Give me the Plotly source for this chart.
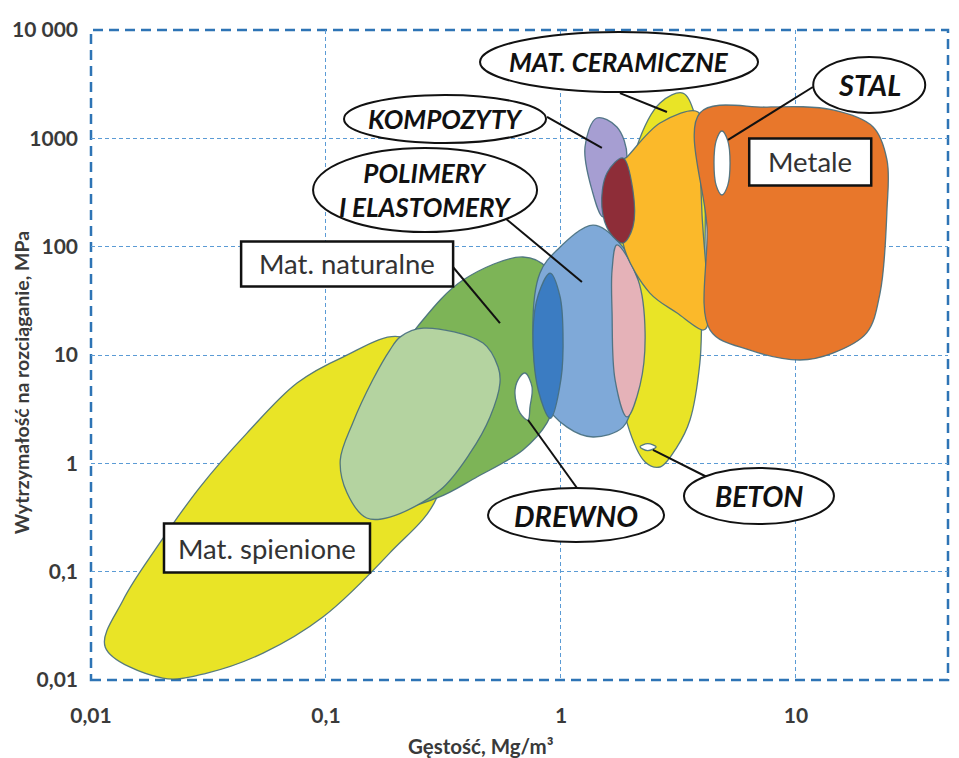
import math
import plotly.graph_objects as go

# ---- axes -------------------------------------------------------------
X_RANGE = [-2.0, 1.647]          # log10 of density limits
Y_RANGE = [-2.0, 4.0]            # log10 of strength limits
x_tick_vals = [0.01, 0.1, 1, 10]
x_tick_text = ["0,01", "0,1", "1", "10"]
y_tick_vals = [0.01, 0.1, 1, 10, 100, 1000, 10000]
y_tick_text = ["0,01", "0,1", "1", "10", "100", "1000", "10 000"]

# ---- material family envelopes: density [Mg/m3], strength [MPa] --------
foams_rho = [0.0202, 0.0115, 0.0137, 0.0191, 0.0291, 0.0461, 0.0753, 0.118, 0.207, 0.337, 0.297, 0.187, 0.097, 0.054, 0.0312]
foams_sig = [0.0104, 0.0201, 0.0547, 0.169, 0.604, 1.90, 5.51, 9.57, 14.7, 5.87, 0.489, 0.149, 0.0381, 0.0177, 0.0116]

natural_rho = [0.689, 0.872, 0.971, 0.990, 0.943, 0.872, 0.689, 0.439, 0.297, 0.207, 0.154, 0.170, 0.244, 0.383]
natural_sig = [80.3, 63.5, 32.2, 11.1, 3.85, 2.36, 1.33, 0.748, 0.479, 0.412, 0.867, 5.87, 18.1, 49.2]

natural_light_rho = [0.259, 0.466, 0.540, 0.550, 0.499, 0.410, 0.306, 0.187, 0.149, 0.123, 0.115, 0.130, 0.158, 0.187, 0.207]
natural_light_sig = [17.7, 12.9, 7.74, 5.51, 2.68, 1.24, 0.567, 0.319, 0.313, 0.532, 1.07, 2.36, 5.87, 11.1, 14.7]

wood_rho = [0.703, 0.753, 0.738, 0.724, 0.669, 0.637, 0.656]
wood_sig = [6.82, 5.07, 3.31, 2.51, 2.92, 4.46, 5.87]

ceramics_rho = [3.30, 3.72, 4.06, 4.10, 3.98, 3.90, 3.54, 3.12, 2.64, 2.28, 1.91, 1.70, 1.75, 2.10, 2.64]
ceramics_sig = [2618, 1642, 510, 93.1, 24.4, 8.43, 2.51, 1.42, 0.925, 1.03, 2.36, 11.1, 93.1, 832, 2118]

polymers_rho = [1.368, 1.730, 2.07, 2.17, 2.023, 1.836, 1.368, 1.061, 0.838, 0.760, 0.814, 0.962]
polymers_sig = [158, 115, 60.9, 17.0, 3.85, 2.16, 1.75, 2.16, 3.85, 16.0, 57.1, 93.1]

elastomers_rho = [0.90, 0.99, 1.02, 1.00, 0.90, 0.80, 0.76, 0.80]
elastomers_sig = [57, 35, 16, 6, 2.6, 4.75, 16, 35.8]

pink_rho = [1.73, 2.13, 2.28, 2.17, 1.91, 1.70, 1.65, 1.65]
pink_sig = [104, 49.2, 16.0, 5.28, 2.68, 5.87, 24.4, 60.9]

composites_rho = [1.42, 1.73, 1.91, 1.70, 1.51, 1.355, 1.265]
composites_sig = [1541, 1273, 673, 333, 188, 333, 832]

tech_ceramics_rho = [1.91, 2.64, 3.83, 3.90, 3.98, 4.18, 4.02, 3.12, 2.39, 1.87, 1.78, 1.84]
tech_ceramics_sig = [673, 1386, 1750, 631, 205, 18.1, 17.0, 24.4, 37.3, 93.1, 218, 631]

cfrp_rho = [1.836, 2.023, 2.023, 1.836, 1.617, 1.493, 1.570]
cfrp_sig = [658, 333, 152, 108, 134, 232, 479]

metals_rho = [3.90, 7.54, 14.35, 21.3, 24.4, 24.4, 22.8, 20.0, 14.35, 10.4, 6.37, 4.31, 4.18]
metals_sig = [1714, 1945, 1827, 1273, 631, 218, 37.3, 16.0, 10.4, 8.99, 11.1, 17.0, 152]

steel_rho = [4.84, 5.12, 5.24, 5.12, 4.84, 4.58, 4.48, 4.58]
steel_sig = [1169, 957, 592, 366, 300, 366, 592, 957]

concrete_rho = [2.17, 2.34, 2.54, 2.34]
concrete_sig = [1.42, 1.52, 1.42, 1.31]

# drawing order: back to front
regions = [
    (foams_rho, foams_sig, "#E9E426"),
    (natural_rho, natural_sig, "#7DB457"),
    (natural_light_rho, natural_light_sig, "#B4D3A0"),
    (wood_rho, wood_sig, "#FFFFFF"),
    (ceramics_rho, ceramics_sig, "#E9E426"),
    (polymers_rho, polymers_sig, "#7FA9D8"),
    (elastomers_rho, elastomers_sig, "#3B7CC2"),
    (pink_rho, pink_sig, "#E5B2B8"),
    (composites_rho, composites_sig, "#A69ED2"),
    (tech_ceramics_rho, tech_ceramics_sig, "#FBB92A"),
    (cfrp_rho, cfrp_sig, "#8E2D38"),
    (metals_rho, metals_sig, "#E8772B"),
    (steel_rho, steel_sig, "#FFFFFF"),
    (concrete_rho, concrete_sig, "#FFFFFF"),
]

fig = go.Figure()
for rho, sig, color in regions:
    fig.add_trace(go.Scatter(
        x=rho + rho[:1], y=sig + sig[:1],
        mode="lines", line=dict(shape="spline", smoothing=1.0, color="rgba(70,110,125,0.9)", width=1.3),
        fill="toself", fillcolor=color, hoverinfo="skip", showlegend=False,
    ))

# ---- callouts -----------------------------------------------------------
PLOT_W, PLOT_H = 857, 650
L, R, T, B = 91, 11, 30, 78


def px(v):
    return (math.log10(v) - X_RANGE[0]) / (X_RANGE[1] - X_RANGE[0])


def py(v):
    return (math.log10(v) - Y_RANGE[0]) / (Y_RANGE[1] - Y_RANGE[0])


FONT = "Lato, 'Open Sans', sans-serif"

# (text, density, strength, half width px, half height px, font size)
ellipse_labels = [
    ("MAT. CERAMICZNE", 1.766, 5070, 139, 30, 26),
    ("STAL", 20.5, 3107, 56, 28, 29),
    ("KOMPOZYTY", 0.321, 1508, 101, 24, 26),
    ("POLIMERY<br>I ELASTOMERY", 0.264, 333, 112, 42, 26),
    ("DREWNO", 1.159, 0.333, 88, 27, 29),
    ("BETON", 6.96, 0.499, 75, 28, 28),
]
box_labels = [
    ("Mat. naturalne", 0.123, 69.2, 106, 22.5),
    ("Metale", 11.5, 605, 61, 23.5),
    ("Mat. spienione", 0.0561, 0.165, 103, 24.5),
]
leaders = [
    ((1.782, 2618), (2.825, 1750)),
    ((11.8, 2977), (5.14, 966)),
    ((0.872, 1574), (1.493, 815)),
    ((0.578, 184), (1.228, 47.2)),
    ((0.347, 64.9), (0.550, 19.7)),
    ((1.170, 0.592), (0.724, 2.51)),
    ((4.18, 0.748), (2.462, 1.33)),
]

shapes = []
annotations = []

# dashed frame
shapes.append(dict(type="rect", xref="paper", yref="paper", x0=0, x1=1, y0=0, y1=1,
                   line=dict(color="#2E74B5", width=2.5, dash="10px,6px"), layer="below"))

for (a, b) in leaders:
    shapes.append(dict(type="line", xref="paper", yref="paper",
                       x0=px(a[0]), y0=py(a[1]), x1=px(b[0]), y1=py(b[1]),
                       line=dict(color="#111111", width=2), layer="above"))

for text, xv, yv, hw, hh, fs in ellipse_labels:
    cx, cy = px(xv), py(yv)
    shapes.append(dict(type="circle", xref="paper", yref="paper",
                       x0=cx - hw / PLOT_W, x1=cx + hw / PLOT_W,
                       y0=cy - hh / PLOT_H, y1=cy + hh / PLOT_H,
                       fillcolor="white", line=dict(color="#111111", width=2), layer="above"))
    annotations.append(dict(xref="paper", yref="paper", x=cx, y=cy, text=text, showarrow=False,
                            xanchor="center", yanchor="middle",
                            font=dict(family=FONT, size=fs, color="#111111", weight="bold", style="italic")))

for text, xv, yv, hw, hh in box_labels:
    cx, cy = px(xv), py(yv)
    shapes.append(dict(type="rect", xref="paper", yref="paper",
                       x0=cx - hw / PLOT_W, x1=cx + hw / PLOT_W,
                       y0=cy - hh / PLOT_H, y1=cy + hh / PLOT_H,
                       fillcolor="white", line=dict(color="#111111", width=2.5), layer="above"))
    annotations.append(dict(xref="paper", yref="paper", x=cx, y=cy, text=text, showarrow=False,
                            xanchor="center", yanchor="middle",
                            font=dict(family=FONT, size=27.5, color="#333333")))

# axis titles
annotations.append(dict(xref="paper", yref="paper", x=0.455, y=-0.1015, text="Gęstość, Mg/m³",
                        showarrow=False, xanchor="center", yanchor="middle",
                        font=dict(family=FONT, size=20.5, color="#3a3a3a", weight="bold")))
annotations.append(dict(xref="paper", yref="paper", x=-0.0817, y=0.458,
                        text="Wytrzymałość na rozciąganie, MPa", textangle=-90,
                        showarrow=False, xanchor="center", yanchor="middle",
                        font=dict(family=FONT, size=19.5, color="#3a3a3a", weight="bold")))

grid = dict(gridcolor="#5B9BD5", gridwidth=1, griddash="4px,3px")
tickfont = dict(family=FONT, size=21, color="#3a3a3a", weight="bold")

fig.update_layout(
    width=959, height=758,
    margin=dict(l=L, r=R, t=T, b=B),
    paper_bgcolor="white", plot_bgcolor="white",
    shapes=shapes, annotations=annotations,
    xaxis=dict(type="log", range=X_RANGE, tickvals=x_tick_vals, ticktext=x_tick_text,
               showline=False, zeroline=False, ticks="", ticklabelstandoff=21,
               tickfont=tickfont, **grid),
    yaxis=dict(type="log", range=Y_RANGE, tickvals=y_tick_vals, ticktext=y_tick_text,
               showline=False, zeroline=False, ticks="", ticklabelstandoff=12,
               tickfont=tickfont, **grid),
)

fig.write_html("out.html")
